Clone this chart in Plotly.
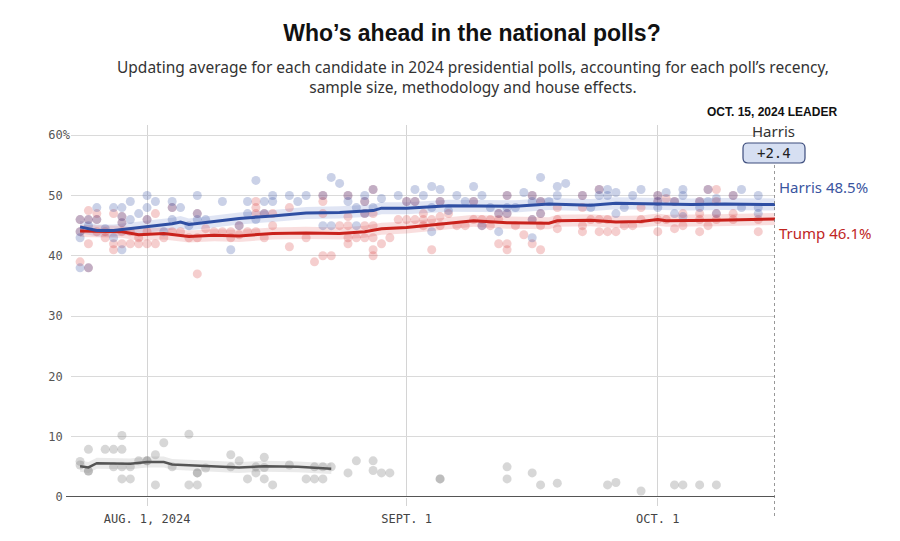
import plotly.graph_objects as go

# ---------------- data ----------------
harris_polls = [
    ("2024-07-24", [46, 44, 43, 38]), ("2024-07-25", [46, 45, 38]), ("2024-07-26", [48, 46]),
    ("2024-07-27", [44.5]), ("2024-07-28", [48, 43]), ("2024-07-29", [48, 46.5, 45.5, 41]),
    ("2024-07-30", [49, 46]), ("2024-07-31", [47]), ("2024-08-01", [50, 48, 46]),
    ("2024-08-02", [49]), ("2024-08-03", [44]), ("2024-08-04", [49, 48, 46]),
    ("2024-08-05", [48]), ("2024-08-06", [45]), ("2024-08-07", [50, 47, 46]),
    ("2024-08-08", [46]), ("2024-08-10", [49]), ("2024-08-11", [41]), ("2024-08-12", [45]),
    ("2024-08-13", [49, 47]), ("2024-08-14", [52.5, 46]), ("2024-08-15", [49, 47]),
    ("2024-08-16", [50, 49]), ("2024-08-18", [50]), ("2024-08-19", [49]), ("2024-08-20", [50]),
    ("2024-08-22", [50, 45]), ("2024-08-23", [53, 45]), ("2024-08-24", [52]),
    ("2024-08-25", [50, 49]), ("2024-08-26", [48, 45]), ("2024-08-27", [50, 49, 47]),
    ("2024-08-28", [51, 48]), ("2024-08-29", [49.5]), ("2024-08-31", [50]), ("2024-09-01", [49]),
    ("2024-09-02", [51, 49]), ("2024-09-03", [50]), ("2024-09-04", [51.5, 48, 44]),
    ("2024-09-05", [51, 49]), ("2024-09-06", [47.5]), ("2024-09-07", [50]), ("2024-09-08", [49]),
    ("2024-09-09", [51.5, 49]), ("2024-09-10", [50, 45]), ("2024-09-11", [48]),
    ("2024-09-12", [47, 44]), ("2024-09-13", [50, 48, 47]), ("2024-09-14", [48]),
    ("2024-09-15", [50.5]), ("2024-09-16", [50, 49, 46, 43]), ("2024-09-17", [53, 49, 47]),
    ("2024-09-18", [49]), ("2024-09-19", [51.5, 50]), ("2024-09-20", [52]), ("2024-09-22", [50]),
    ("2024-09-23", [48]), ("2024-09-24", [51, 50]), ("2024-09-25", [51, 50]),
    ("2024-09-26", [50.5, 47]), ("2024-09-27", [48]), ("2024-09-28", [50]), ("2024-09-29", [51]),
    ("2024-10-01", [50, 49, 48]), ("2024-10-02", [50.5]), ("2024-10-03", [49, 47]),
    ("2024-10-04", [51, 50, 46.5]), ("2024-10-06", [49, 48]), ("2024-10-07", [51, 49]),
    ("2024-10-08", [49.5, 47]), ("2024-10-10", [50]), ("2024-10-11", [51, 48]),
    ("2024-10-13", [50, 48, 47]),
]
trump_polls = [
    ("2024-07-24", [46, 44, 39]), ("2024-07-25", [47.5, 46, 42, 38]), ("2024-07-26", [47, 46, 44]),
    ("2024-07-27", [44, 43]), ("2024-07-28", [47, 42, 41]), ("2024-07-29", [46.5, 45.5, 44, 42]),
    ("2024-07-30", [44, 42]), ("2024-07-31", [43, 42]), ("2024-08-01", [46, 44, 42]),
    ("2024-08-02", [47, 42]), ("2024-08-03", [43]), ("2024-08-04", [48, 44]), ("2024-08-05", [44]),
    ("2024-08-06", [43]), ("2024-08-07", [47, 43, 37]), ("2024-08-08", [44.5]),
    ("2024-08-09", [44]), ("2024-08-10", [44]), ("2024-08-11", [44, 43]), ("2024-08-12", [45, 43.5]),
    ("2024-08-13", [44]), ("2024-08-14", [49, 48, 47, 44]), ("2024-08-15", [47, 43]),
    ("2024-08-16", [47, 45]), ("2024-08-18", [48, 41.5]), ("2024-08-20", [43]), ("2024-08-21", [39]),
    ("2024-08-22", [50, 49, 47, 40]), ("2024-08-23", [40]), ("2024-08-24", [45]),
    ("2024-08-25", [50, 46.5, 45, 43, 42]), ("2024-08-26", [43]), ("2024-08-27", [49, 47, 45, 43]),
    ("2024-08-28", [51, 47, 45, 43, 41, 40]), ("2024-08-29", [42]), ("2024-08-30", [43]),
    ("2024-08-31", [46]), ("2024-09-01", [49, 46]), ("2024-09-02", [49, 46]),
    ("2024-09-03", [47, 46, 45]), ("2024-09-04", [46, 41]), ("2024-09-05", [49, 46.5, 45]),
    ("2024-09-06", [47]), ("2024-09-07", [45]), ("2024-09-08", [45]), ("2024-09-09", [49, 46]),
    ("2024-09-10", [46, 45]), ("2024-09-11", [46, 45]), ("2024-09-12", [47, 46, 42]),
    ("2024-09-13", [50, 47, 42, 41]), ("2024-09-14", [45]), ("2024-09-15", [43.5]),
    ("2024-09-16", [50, 46, 42]), ("2024-09-17", [49, 47, 45, 41]), ("2024-09-19", [48, 46, 44.5]),
    ("2024-09-22", [50, 48, 45, 44]), ("2024-09-23", [46]), ("2024-09-24", [51, 46, 44]),
    ("2024-09-25", [46, 44]), ("2024-09-26", [44]), ("2024-09-27", [45]), ("2024-09-28", [45]),
    ("2024-09-29", [48, 46]), ("2024-10-01", [50, 49, 46, 44]), ("2024-10-02", [49.5, 46]),
    ("2024-10-03", [49, 44.5]), ("2024-10-04", [47, 45]), ("2024-10-06", [49, 47, 46, 44]),
    ("2024-10-07", [51, 45]), ("2024-10-08", [51, 49, 47, 46]), ("2024-10-10", [50, 47, 46]),
    ("2024-10-13", [46, 44]),
]
other_polls = [
    ("2024-07-24", [5.9, 5.3]), ("2024-07-25", [7.9, 4.3, 4.3]), ("2024-07-27", [7.9]),
    ("2024-07-28", [7.9, 5.0]), ("2024-07-29", [10.2, 7.9, 5.0, 3.0]), ("2024-07-30", [5.0, 3.0]),
    ("2024-07-31", [6.0]), ("2024-08-01", [6.0, 6.0]), ("2024-08-02", [7, 2]), ("2024-08-03", [9]),
    ("2024-08-04", [5]), ("2024-08-06", [10.4, 2]), ("2024-08-07", [4, 4, 2]), ("2024-08-08", [4.8]),
    ("2024-08-11", [7, 5]), ("2024-08-12", [6]), ("2024-08-13", [3]), ("2024-08-14", [4, 5]),
    ("2024-08-15", [6.6, 4.9, 3]), ("2024-08-16", [2]), ("2024-08-18", [5.3]), ("2024-08-20", [3]),
    ("2024-08-21", [3, 5]), ("2024-08-22", [5, 3]), ("2024-08-23", [5]), ("2024-08-25", [4]),
    ("2024-08-26", [6]), ("2024-08-28", [6, 4.4]), ("2024-08-29", [4]), ("2024-08-30", [4]),
    ("2024-09-05", [3, 3]), ("2024-09-13", [5, 3]), ("2024-09-16", [4]), ("2024-09-17", [2]),
    ("2024-09-19", [2.3]), ("2024-09-25", [2]), ("2024-09-26", [2.4]), ("2024-09-29", [1]),
    ("2024-10-03", [2]), ("2024-10-04", [2]), ("2024-10-06", [2]), ("2024-10-08", [2]),
]

harris_trend_dates = ["2024-07-24", "2024-07-26", "2024-07-28", "2024-07-30", "2024-08-01", "2024-08-04",
                      "2024-08-05", "2024-08-06", "2024-08-09", "2024-08-12", "2024-08-16", "2024-08-20",
                      "2024-08-24", "2024-08-28", "2024-08-29", "2024-09-01", "2024-09-06", "2024-09-10",
                      "2024-09-14", "2024-09-18", "2024-09-23", "2024-09-26", "2024-10-01", "2024-10-05",
                      "2024-10-09", "2024-10-15"]
harris_trend = [44.8, 44.2, 44.2, 44.5, 44.9, 45.3, 45.6, 45.2, 45.7, 46.2, 46.6, 47.1, 47.2, 47.5, 47.9,
                47.9, 48.3, 48.2, 48.2, 48.6, 48.4, 48.7, 48.6, 48.5, 48.6, 48.5]
trump_trend_dates = ["2024-07-24", "2024-07-27", "2024-07-29", "2024-07-31", "2024-08-03", "2024-08-06",
                     "2024-08-09", "2024-08-12", "2024-08-16", "2024-08-20", "2024-08-24", "2024-08-27",
                     "2024-08-29", "2024-09-01", "2024-09-04", "2024-09-09", "2024-09-13", "2024-09-18",
                     "2024-09-19", "2024-09-23", "2024-09-26", "2024-09-29", "2024-10-01", "2024-10-02",
                     "2024-10-08", "2024-10-15"]
trump_trend = [44.1, 44.0, 44.0, 43.5, 43.7, 43.2, 43.4, 43.3, 43.7, 43.8, 43.7, 44.0, 44.5, 44.7, 45.1,
               45.8, 45.5, 45.4, 45.8, 45.9, 45.6, 45.7, 46.0, 45.8, 45.9, 46.1]
other_trend_dates = ["2024-07-24", "2024-07-25", "2024-07-26", "2024-07-30", "2024-08-01", "2024-08-03",
                     "2024-08-04", "2024-08-08", "2024-08-12", "2024-08-15", "2024-08-19", "2024-08-23"]
other_trend = [5.1, 4.9, 5.6, 5.5, 5.8, 5.8, 5.4, 5.2, 4.9, 5.1, 5.0, 4.7]
band_halfwidth = {"harris": 1.0, "trump": 1.0, "other": 0.9}

x_tick_vals = ["2024-08-01", "2024-09-01", "2024-10-01"]
x_tick_text = ["AUG. 1, 2024", "SEPT. 1", "OCT. 1"]
y_tick_vals = [0, 10, 20, 30, 40, 50, 60]
y_tick_text = ["0\u00a0", "10\u00a0", "20\u00a0", "30\u00a0", "40\u00a0", "50\u00a0", "60%"]

leader_date = "2024-10-15"
leader_name = "Harris"
leader_margin = "+2.4"
harris_final = 48.5
trump_final = 46.1

# ---------------- styling ----------------
BLUE = "#2f4fa3"
RED = "#c9221c"
GRAY = "#555555"
MONO = "DejaVu Sans Mono"
SANS = "Liberation Sans, Arial, sans-serif"
NOTO = "Noto Sans, sans-serif"


def flatten(polls):
    xs, ys = [], []
    for d, vals in polls:
        for v in vals:
            xs.append(d)
            ys.append(v)
    return xs, ys


fig = go.Figure()


def add_band(dates, vals, hw, color):
    fig.add_trace(go.Scatter(x=dates, y=[v + hw for v in vals], mode="lines",
                             line=dict(width=0), hoverinfo="skip", showlegend=False))
    fig.add_trace(go.Scatter(x=dates, y=[v - hw for v in vals], mode="lines",
                             line=dict(width=0), fill="tonexty", fillcolor=color,
                             hoverinfo="skip", showlegend=False))


add_band(other_trend_dates, other_trend, band_halfwidth["other"], "rgba(160,160,160,0.22)")
add_band(harris_trend_dates, harris_trend, band_halfwidth["harris"], "rgba(70,100,190,0.17)")
add_band(trump_trend_dates, trump_trend, band_halfwidth["trump"], "rgba(220,60,60,0.17)")

ox, oy = flatten(other_polls)
fig.add_trace(go.Scatter(x=ox, y=oy, mode="markers", showlegend=False,
                         marker=dict(size=9, color="rgba(140,140,140,0.35)", line=dict(width=0))))
tx, ty = flatten(trump_polls)
fig.add_trace(go.Scatter(x=tx, y=ty, mode="markers", showlegend=False,
                         marker=dict(size=9, color="rgba(215,60,60,0.25)", line=dict(width=0))))
hx, hy = flatten(harris_polls)
fig.add_trace(go.Scatter(x=hx, y=hy, mode="markers", showlegend=False,
                         marker=dict(size=9, color="rgba(60,85,165,0.27)", line=dict(width=0))))

fig.add_trace(go.Scatter(x=other_trend_dates, y=other_trend, mode="lines", showlegend=False,
                         line=dict(color=GRAY, width=2.5)))
fig.add_trace(go.Scatter(x=trump_trend_dates, y=trump_trend, mode="lines", showlegend=False,
                         line=dict(color=RED, width=3)))
fig.add_trace(go.Scatter(x=harris_trend_dates, y=harris_trend, mode="lines", showlegend=False,
                         line=dict(color=BLUE, width=3)))

# geometry helpers (plot area: x 71..775 px, y 125..497 px)
PL, PR, PT, PB = 71, 775, 125, 497


def px_x(x):
    return (x - PL) / (PR - PL)


def px_y(y):
    return (PB - y) / (PB - PT)


fig.update_layout(
    width=900, height=541,
    margin=dict(l=PL, r=900 - PR, t=PT, b=541 - PB),
    paper_bgcolor="white", plot_bgcolor="white",
    showlegend=False,
    title=dict(text="<b>Who’s ahead in the national polls?</b>", x=472 / 900, xanchor="center",
               y=1 - 33 / 541, yanchor="middle",
               font=dict(family=SANS, size=23, color="#111")),
    xaxis=dict(range=["2024-07-22 22:00", "2024-10-15 00:00"], tickvals=x_tick_vals,
               ticktext=x_tick_text, showgrid=True, gridcolor="#d4d4d4", gridwidth=1,
               ticks="outside", ticklen=8, tickcolor="#d4d4d4", ticklabelstandoff=3,
               tickfont=dict(family=MONO, size=12, color="#444"), zeroline=False,
               showline=False, fixedrange=True),
    yaxis=dict(range=[0, (PB - PT) / 6.03], tickvals=y_tick_vals, ticktext=y_tick_text,
               showgrid=True, gridcolor="#dadada", gridwidth=1, zeroline=False,
               ticks="", ticklabelstandoff=0,
               tickfont=dict(family=MONO, size=12, color="#555"), showline=False),
)

ann = []
ann.append(dict(text="Updating average for each candidate in 2024 presidential polls, accounting for each poll’s recency,<br>sample size, methodology and house effects.",
                xref="paper", yref="paper", x=px_x(473), y=px_y(77), xanchor="center", yanchor="middle",
                showarrow=False, align="center",
                font=dict(family=NOTO, size=15.5, color="#333")))
ann.append(dict(text="<b>OCT. 15, 2024 LEADER</b>", xref="paper", yref="paper", x=px_x(772), y=px_y(112),
                xanchor="center", yanchor="middle", showarrow=False,
                font=dict(family=SANS, size=12, color="#111")))
ann.append(dict(text=leader_name, xref="paper", yref="paper", x=px_x(773), y=px_y(131),
                xanchor="center", yanchor="middle", showarrow=False,
                font=dict(family=NOTO, size=15, color="#333")))
ann.append(dict(text=leader_margin, xref="paper", yref="paper", x=px_x(774), y=px_y(153),
                xanchor="center", yanchor="middle", showarrow=False,
                font=dict(family=MONO, size=14, color="#222")))
ann.append(dict(text=f"Harris {harris_final}%", xref="paper", yref="paper", x=px_x(777), y=px_y(187),
                xanchor="left", yanchor="middle", showarrow=False,
                font=dict(family=NOTO, size=15, color="#3a55a0")))
ann.append(dict(text=f"Trump {trump_final}%", xref="paper", yref="paper", x=px_x(777), y=px_y(233),
                xanchor="left", yanchor="middle", showarrow=False,
                font=dict(family=NOTO, size=15, color="#c0261f")))
fig.update_layout(annotations=ann)

# rounded box for the margin
x0, x1, y0, y1 = px_x(743), px_x(805), px_y(163), px_y(143)
rx, ry = 5 / (PR - PL), 5 / (PB - PT)
path = (f"M {x0+rx},{y0} L {x1-rx},{y0} Q {x1},{y0} {x1},{y0+ry} L {x1},{y1-ry} "
        f"Q {x1},{y1} {x1-rx},{y1} L {x0+rx},{y1} Q {x0},{y1} {x0},{y1-ry} "
        f"L {x0},{y0+ry} Q {x0},{y0} {x0+rx},{y0} Z")
fig.add_shape(type="path", path=path, xref="paper", yref="paper",
              fillcolor="#d6dff2", line=dict(color="#3d4d7d", width=1.2), layer="below")
# baseline (extends slightly left of the gridlines)
fig.add_shape(type="line", xref="paper", yref="y", x0=px_x(66), x1=1, y0=0, y1=0,
              line=dict(color="#555", width=2))
fig.add_shape(type="line", xref="x", yref="paper", x0=leader_date, x1=leader_date,
              y0=px_y(516), y1=px_y(163), line=dict(color="#777", width=1.5, dash="dot"))

fig.write_html("out.html")
